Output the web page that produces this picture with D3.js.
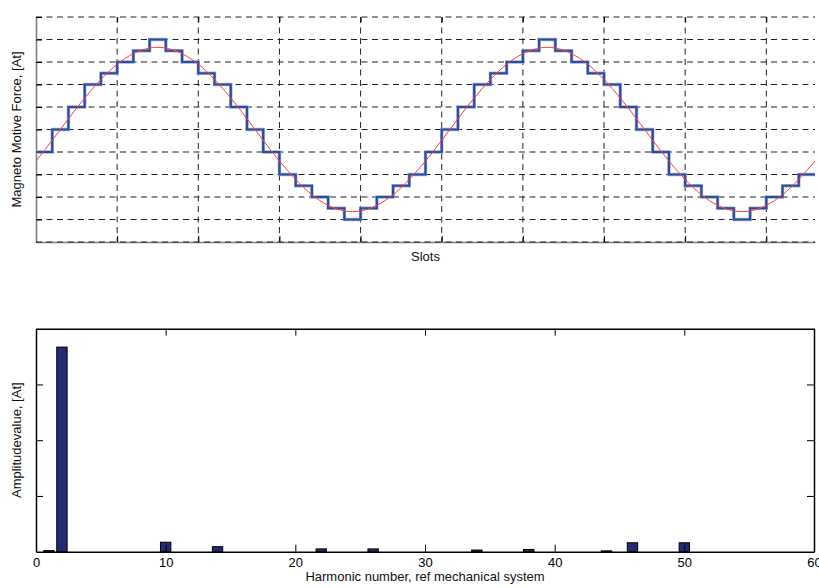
<!DOCTYPE html>
<html>
<head>
<meta charset="utf-8">
<script src="https://cdn.jsdelivr.net/npm/d3@7"></script>
<style>
  body { margin: 0; background: #fff; }
  svg text { font-family: "Liberation Sans", Arial, Helvetica, sans-serif; }
</style>
</head>
<body>
<svg id="chart" width="819" height="588"></svg>
<script>
// MMF of the winding per slot (staircase), 48 slots, two pole pairs
const mmfSteps = [
  -100, 0, 100, 200, 250, 300, 350, 400, 350, 300, 250, 200,
   100, 0, -100, -200, -250, -300, -350, -400, -350, -300, -250, -200,
  -100, 0, 100, 200, 250, 300, 350, 400, 350, 300, 250, 200,
   100, 0, -100, -200, -250, -300, -350, -400, -350, -300, -250, -200
];
// Fundamental MMF wave sampled at slot boundaries 0..48
const fundamental = [
  -140, -48, 48, 140, 222, 290, 337, 362, 362, 337, 290, 222,
   140, 48, -48, -140, -222, -290, -337, -362, -362, -337, -290, -222,
  -140, -48, 48, 140, 222, 290, 337, 362, 362, 337, 290, 222,
   140, 48, -48, -140, -222, -290, -337, -362, -362, -337, -290, -222,
  -140
];
// Harmonic spectrum (mechanical harmonic order and amplitude)
const harmonics  = [1, 2, 10, 14, 22, 26, 34, 38, 44, 46, 50];
const amplitudes = [2, 367, 17, 9, 5, 5, 3, 4, 1.5, 16, 16];

const slotTicks      = [5, 10, 15, 20, 25, 30, 35, 40, 45];
const mmfTicks       = [-500, -400, -300, -200, -100, 0, 100, 200, 300, 400, 500];
const harmonicTicks  = [0, 10, 20, 30, 40, 50, 60];
const amplitudeTicks = [100, 200, 300];

const svg = d3.select("#chart");

// ---------- Upper plot: MMF along the slots ----------
const upper = { left: 36, right: 815, top: 17, bottom: 242 };
const xs = d3.scaleLinear().domain([0, 48]).range([upper.left, upper.right]);
const ys = d3.scaleLinear().domain([-500, 500]).range([upper.bottom, upper.top]);

const g1 = svg.append("g");

// dashed grid
g1.append("g").selectAll("line").data(slotTicks).join("line")
  .attr("x1", d => xs(d)).attr("x2", d => xs(d))
  .attr("y1", upper.top).attr("y2", upper.bottom)
  .attr("stroke", "#222").attr("stroke-width", 1)
  .attr("stroke-dasharray", "6,4.5");
g1.append("g").selectAll("line").data(mmfTicks.filter(d => d > -500)).join("line")
  .attr("x1", upper.left).attr("x2", upper.right)
  .attr("y1", d => ys(d)).attr("y2", d => ys(d))
  .attr("stroke", "#222").attr("stroke-width", 1)
  .attr("stroke-dasharray", "6,4.5");

// axes (no tick labels), ticks pointing inward
const yAxis1 = g1.append("g").attr("transform", `translate(${upper.left},0)`)
  .call(d3.axisLeft(ys).tickValues(mmfTicks).tickSizeInner(-6).tickSizeOuter(0).tickFormat(""));
const xAxis1 = g1.append("g").attr("transform", `translate(0,${upper.bottom})`)
  .call(d3.axisBottom(xs).tickValues(slotTicks).tickSizeInner(-6).tickSizeOuter(0).tickFormat(""));
const xAxis1Top = g1.append("g").attr("transform", `translate(0,${upper.top})`)
  .call(d3.axisTop(xs).tickValues(slotTicks).tickSizeInner(-5).tickSizeOuter(0).tickFormat(""));
xAxis1Top.select(".domain").remove();
[yAxis1, xAxis1].forEach(a => a.select(".domain").attr("stroke", "#808080").attr("stroke-width", 1.6));
[yAxis1, xAxis1, xAxis1Top].forEach(a => a.selectAll(".tick line").attr("stroke", "#000"));

// dashed grid over the bottom axis line
g1.append("line")
  .attr("x1", upper.left).attr("x2", upper.right)
  .attr("y1", upper.bottom).attr("y2", upper.bottom)
  .attr("stroke", "#222").attr("stroke-width", 1)
  .attr("stroke-dasharray", "6,4.5");

// staircase MMF
const stepPts = mmfSteps.map((v, i) => [i, v]).concat([[48, mmfSteps[47]]]);
const stepLine = d3.line().x(d => xs(d[0])).y(d => ys(d[1])).curve(d3.curveStepAfter);
g1.append("path")
  .datum(stepPts)
  .attr("fill", "none")
  .attr("stroke", "#9fb0d8")
  .attr("stroke-width", 3.4)
  .attr("d", stepLine);
g1.append("path")
  .datum(stepPts)
  .attr("fill", "none")
  .attr("stroke", "#2c4c9c")
  .attr("stroke-width", 2.2)
  .attr("d", stepLine);

// fundamental wave
g1.append("path")
  .datum(fundamental.map((v, i) => [i, v]))
  .attr("fill", "none")
  .attr("stroke", "#ff3b3b")
  .attr("stroke-width", 1)
  .attr("d", d3.line().x(d => xs(d[0])).y(d => ys(d[1])).curve(d3.curveNatural));

g1.append("text")
  .attr("x", (upper.left + upper.right) / 2).attr("y", 261)
  .attr("text-anchor", "middle").attr("font-size", 13).attr("fill", "#111")
  .text("Slots");
g1.append("text")
  .attr("transform", `translate(21,${(upper.top + upper.bottom) / 2}) rotate(-90)`)
  .attr("text-anchor", "middle").attr("font-size", 13).attr("fill", "#111")
  .text("Magneto Motive Force, [At]");

// ---------- Lower plot: harmonic spectrum ----------
const lower = { left: 36, right: 814, top: 328.7, bottom: 551.7 };
const xh = d3.scaleLinear().domain([0, 60]).range([lower.left, lower.right]);
const ya = d3.scaleLinear().domain([0, 400]).range([lower.bottom, lower.top]);
const barW = 0.8;

const g2 = svg.append("g");

g2.selectAll("rect.bar").data(harmonics).join("rect")
  .attr("class", "bar")
  .attr("x", d => xh(d - barW / 2))
  .attr("width", d => xh(d + barW / 2) - xh(d - barW / 2))
  .attr("y", (d, i) => ya(amplitudes[i]))
  .attr("height", (d, i) => ya(0) - ya(amplitudes[i]))
  .attr("fill", "#262a74")
  .attr("stroke", "#000")
  .attr("stroke-width", 1);

const xAxis2 = g2.append("g").attr("transform", `translate(0,${lower.bottom})`)
  .call(d3.axisBottom(xh).tickValues(harmonicTicks).tickSizeInner(-7).tickSizeOuter(0).tickPadding(6));
const xAxis2Top = g2.append("g").attr("transform", `translate(0,${lower.top})`)
  .call(d3.axisTop(xh).tickValues(harmonicTicks).tickSizeInner(-7).tickSizeOuter(0).tickFormat(""));
const yAxis2 = g2.append("g").attr("transform", `translate(${lower.left},0)`)
  .call(d3.axisLeft(ya).tickValues(amplitudeTicks).tickSizeInner(-7).tickSizeOuter(0).tickFormat(""));
const yAxis2Right = g2.append("g").attr("transform", `translate(${lower.right},0)`)
  .call(d3.axisRight(ya).tickValues(amplitudeTicks).tickSizeInner(-7).tickSizeOuter(0).tickFormat(""));
[xAxis2, xAxis2Top, yAxis2, yAxis2Right].forEach(a => {
  a.select(".domain").attr("stroke", "#000").attr("stroke-width", 1.5);
  a.selectAll(".tick line").attr("stroke", "#000");
});
xAxis2.selectAll(".tick text")
  .attr("font-size", 13).attr("fill", "#000")
  .attr("font-family", "Liberation Sans, Arial, sans-serif");

g2.append("text")
  .attr("x", (lower.left + lower.right) / 2).attr("y", 581)
  .attr("text-anchor", "middle").attr("font-size", 13).attr("fill", "#111")
  .text("Harmonic number, ref mechanical system");
g2.append("text")
  .attr("transform", `translate(21,${(lower.top + lower.bottom) / 2}) rotate(-90)`)
  .attr("text-anchor", "middle").attr("font-size", 13).attr("fill", "#111")
  .text("Amplitudevalue, [At]");
</script>
</body>
</html>
